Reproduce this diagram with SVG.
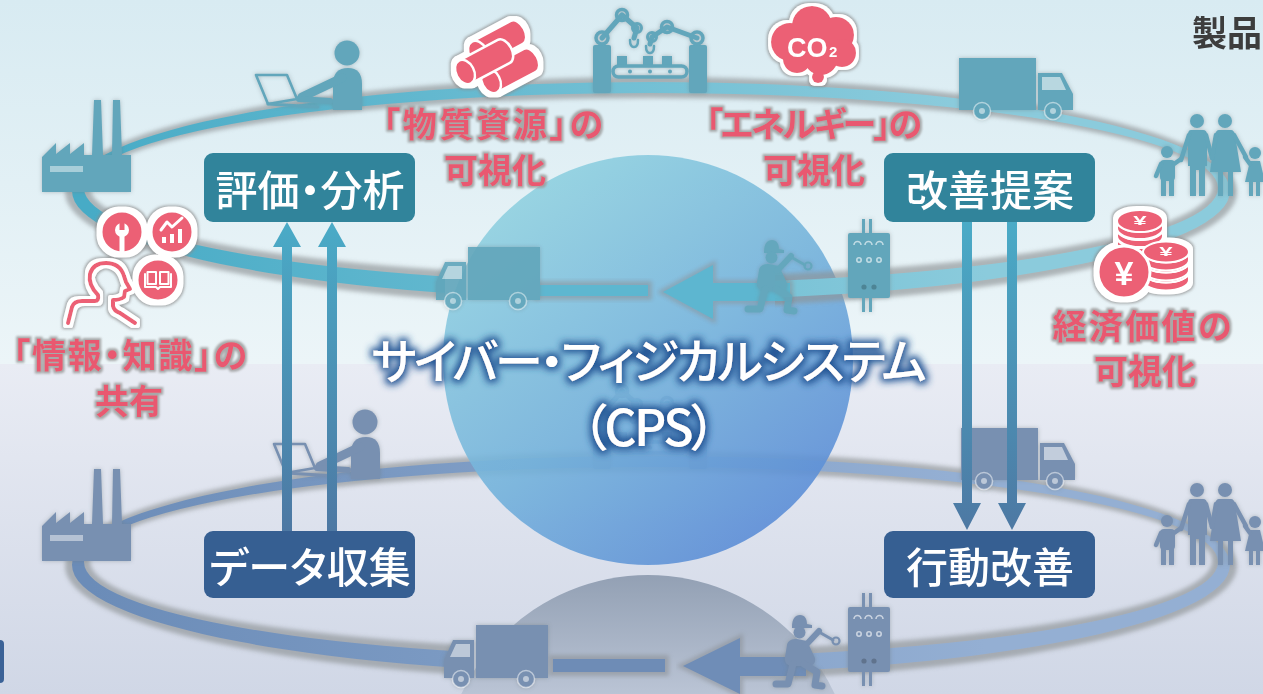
<svg xmlns="http://www.w3.org/2000/svg" width="1263" height="694" viewBox="0 0 1263 694">
<style>
  .ico-top{color:#62a6bb}
  .ico-low{color:#7890b1}
  .box-upper{fill:#31849b}
  .box-lower{fill:#365f92}
  .box-text{fill:#ffffff;font-family:"Noto Sans CJK JP","Noto Sans",sans-serif;font-size:42px;font-weight:500;text-anchor:middle;dominant-baseline:central;font-feature-settings:"palt"}
  .pink-text{fill:#e95870;font-family:"Noto Sans CJK JP","Noto Sans",sans-serif;font-size:34px;font-weight:700;text-anchor:middle;dominant-baseline:central;font-feature-settings:"palt"}
  .cps-text{fill:#ffffff;font-family:"Noto Sans CJK JP","Noto Sans",sans-serif;font-weight:500;text-anchor:middle;dominant-baseline:central;font-feature-settings:"palt"}
  .pk{fill:#ec6075}
  .wline{fill:none;stroke:#ffffff;stroke-linecap:round;stroke-linejoin:round}
</style>
<defs>
  <linearGradient id="bgTop" x1="0" y1="0" x2="0" y2="1">
    <stop offset="0" stop-color="#d8ebf2"/><stop offset="1" stop-color="#ecf5f8"/>
  </linearGradient>
  <linearGradient id="bgBottom" x1="0" y1="0" x2="0" y2="1">
    <stop offset="0" stop-color="#e9ecf4"/><stop offset="1" stop-color="#d0d7e6"/>
  </linearGradient>
  <linearGradient id="sphereFill" x1="0.2" y1="0.1" x2="0.85" y2="0.95">
    <stop offset="0" stop-color="#8fd0e0"/><stop offset="0.5" stop-color="#74b2db"/><stop offset="1" stop-color="#5989d6"/>
  </linearGradient>
  <linearGradient id="ghostFill" x1="0" y1="575" x2="0" y2="694" gradientUnits="userSpaceOnUse">
    <stop offset="0" stop-color="#8f9db1"/><stop offset="1" stop-color="#b9c3d4"/>
  </linearGradient>
  <linearGradient id="ringTop" x1="100" y1="260" x2="950" y2="90" gradientUnits="userSpaceOnUse">
    <stop offset="0" stop-color="#47abc6"/><stop offset="1" stop-color="#8bcbdc"/>
  </linearGradient>
  <linearGradient id="ringBottom" x1="100" y1="260" x2="950" y2="90" gradientUnits="userSpaceOnUse">
    <stop offset="0" stop-color="#6b8cb8"/><stop offset="1" stop-color="#94afd3"/>
  </linearGradient>
  <linearGradient id="flow" x1="0" y1="222" x2="0" y2="531" gradientUnits="userSpaceOnUse">
    <stop offset="0" stop-color="#4aabc7"/><stop offset="1" stop-color="#4d78a3"/>
  </linearGradient>

  <filter id="blurRing" x="-5%" y="-15%" width="110%" height="130%">
    <feGaussianBlur stdDeviation="2.2"/>
  </filter>
  <filter id="soft" x="-20%" y="-20%" width="140%" height="140%">
    <feDropShadow dx="0" dy="0" stdDeviation="2" flood-color="#6d7b80" flood-opacity="0.45"/>
  </filter>
  <filter id="sticker" x="-20%" y="-20%" width="140%" height="140%">
    <feMorphology in="SourceAlpha" operator="dilate" radius="4" result="d2"/>
    <feGaussianBlur in="d2" stdDeviation="1.4" result="d2b"/>
    <feFlood flood-color="#8a8a8a" flood-opacity="0.8"/>
    <feComposite in2="d2b" operator="in" result="gray"/>
    <feMorphology in="SourceAlpha" operator="dilate" radius="2.5" result="d1"/>
    <feFlood flood-color="#ffffff"/>
    <feComposite in2="d1" operator="in" result="white"/>
    <feMerge><feMergeNode in="gray"/><feMergeNode in="white"/><feMergeNode in="SourceGraphic"/></feMerge>
  </filter>
  <filter id="halo" x="-10%" y="-20%" width="120%" height="140%">
    <feMorphology in="SourceAlpha" operator="dilate" radius="1.6" result="d"/>
    <feGaussianBlur in="d" stdDeviation="1" result="b"/>
    <feFlood flood-color="#9b9b9b" flood-opacity="0.85"/>
    <feComposite in2="b" operator="in" result="g"/>
    <feMerge><feMergeNode in="g"/><feMergeNode in="SourceGraphic"/></feMerge>
  </filter>
  <filter id="glow" x="-10%" y="-30%" width="120%" height="160%">
    <feMorphology in="SourceAlpha" operator="dilate" radius="3" result="d"/>
    <feGaussianBlur in="d" stdDeviation="3.5" result="b"/>
    <feFlood flood-color="#255796" flood-opacity="1"/>
    <feComposite in2="b" operator="in" result="g"/>
    <feMerge><feMergeNode in="g"/><feMergeNode in="SourceGraphic"/></feMerge>
  </filter>

  <mask id="gapTop" maskUnits="userSpaceOnUse" x="0" y="0" width="1263" height="694">
    <rect width="1263" height="694" fill="#fff"/>
    <rect x="445" y="235" width="330" height="100" fill="#000"/>
  </mask>
  <mask id="gapBottom" maskUnits="userSpaceOnUse" x="0" y="-400" width="1263" height="1100">
    <rect y="-400" width="1263" height="1100" fill="#fff"/>
    <rect x="455" y="231" width="340" height="100" fill="#000"/>
  </mask>

  <!-- ring band shapes -->
  <path id="ring-shadow" fill-rule="evenodd" d="M65,192 a586,115 0 1 0 1172,0 a586,115 0 1 0 -1172,0 Z M90,187 a561,89 0 1 0 1122,0 a561,89 0 1 0 -1122,0 Z"/>
  <path id="ring-band" fill-rule="evenodd" d="M72,191 a579,109 0 1 0 1158,0 a579,109 0 1 0 -1158,0 Z M84,188 a567,95 0 1 0 1134,0 a567,95 0 1 0 -1134,0 Z"/>

  <!-- icons, drawn in currentColor -->
  <g id="factory" fill="currentColor">
    <path d="M42,192 L42,157 L56,143 L56,154 L70,143 L70,154 L84,143 L84,155 L92,155 L94,100 L101,100 L103,155 L112,155 L113,100 L120,100 L122,155 L131,155 L131,192 Z"/>
    <rect x="50" y="166" width="33" height="6" fill="#ffffff" fill-opacity="0.45"/>
  </g>
  <g id="pc-user" fill="currentColor">
    <circle cx="347" cy="53" r="12.5"/>
    <path d="M333,84 Q333,68 348,68 Q362,68 362,84 L362,110 L333,110 Z"/>
    <g fill="none" stroke="currentColor" stroke-linecap="round" stroke-linejoin="round">
      <path d="M342,78 L302,97" stroke-width="9"/>
      <path d="M299,99 L330,101" stroke-width="6"/>
      <path d="M256,75 L287,75 L297,99 L268,104 Z" stroke-width="2.6"/>
      <path d="M268,104 L318,107" stroke-width="3"/>
    </g>
  </g>
  <g id="robot-line" fill="currentColor">
    <rect x="593" y="45" width="18" height="48" rx="2"/>
    <rect x="689" y="45" width="18" height="48" rx="2"/>
    <rect x="617" y="56" width="10" height="10"/>
    <rect x="643" y="56" width="10" height="10"/>
    <rect x="662" y="56" width="10" height="10"/>
    <circle cx="630" cy="71.5" r="2"/><circle cx="650" cy="71.5" r="2"/><circle cx="670" cy="71.5" r="2"/>
    <g fill="none" stroke="currentColor" stroke-linecap="round" stroke-linejoin="round">
      <rect x="613" y="66" width="74" height="11" rx="5.5" stroke-width="3.5"/>
      <path d="M602,38 L622,15 L637,28 L634,38" stroke-width="5"/>
      <path d="M697,38 L667,27 L652,37 L650,44" stroke-width="5"/>
      <circle cx="602" cy="38" r="6" stroke-width="3.5"/>
      <circle cx="622" cy="15" r="5.5" stroke-width="3.5"/>
      <circle cx="637" cy="28" r="4.5" stroke-width="3"/>
      <circle cx="697" cy="38" r="6" stroke-width="3.5"/>
      <circle cx="667" cy="27" r="5.5" stroke-width="3.5"/>
      <circle cx="652" cy="37" r="4.5" stroke-width="3"/>
      <path d="M630,40 Q630,47 634,47 Q638,47 638,40" stroke-width="2.5"/>
      <path d="M646,46 Q646,53 650,53 Q654,53 654,46" stroke-width="2.5"/>
    </g>
  </g>
  <g id="truck-right" fill="currentColor">
    <rect x="959" y="58" width="77" height="52"/>
    <path d="M1038,73 L1062,73 L1073,94 L1073,110 L1038,110 Z"/>
    <path d="M1042,77 L1060,77 L1066,90 L1042,90 Z" fill="#ffffff" fill-opacity="0.55"/>
    <circle cx="982" cy="111" r="8.5" stroke="#ffffff" stroke-opacity="0.5" stroke-width="1.5"/>
    <circle cx="982" cy="111" r="3" fill="#ffffff" fill-opacity="0.5"/>
    <circle cx="1053" cy="111" r="8.5" stroke="#ffffff" stroke-opacity="0.5" stroke-width="1.5"/>
    <circle cx="1053" cy="111" r="3" fill="#ffffff" fill-opacity="0.5"/>
  </g>
  <g id="truck-left" fill="currentColor">
    <rect x="468" y="247" width="72" height="53"/>
    <path d="M466,262 L445,262 L436,282 L436,300 L466,300 Z"/>
    <path d="M462,266 L448,266 L442,279 L462,279 Z" fill="#ffffff" fill-opacity="0.5"/>
    <circle cx="453" cy="301" r="8.5" stroke="#ffffff" stroke-opacity="0.5" stroke-width="1.5"/>
    <circle cx="453" cy="301" r="3" fill="#ffffff" fill-opacity="0.5"/>
    <circle cx="518" cy="301" r="8.5" stroke="#ffffff" stroke-opacity="0.5" stroke-width="1.5"/>
    <circle cx="518" cy="301" r="3" fill="#ffffff" fill-opacity="0.5"/>
  </g>
  <g id="family" fill="currentColor">
    <circle cx="1197" cy="121" r="7"/>
    <path d="M1191,130 L1203,130 Q1207,130 1207,135 L1207,166 L1205,166 L1205,196 L1199,196 L1199,170 L1196,170 L1196,196 L1190,196 L1190,166 L1188,166 L1188,135 Q1188,130 1191,130 Z"/>
    <circle cx="1225" cy="121" r="7"/>
    <path d="M1219,130 L1231,130 Q1234,130 1235,135 L1241,172 L1233,172 L1233,196 L1228,196 L1228,172 L1223,172 L1223,196 L1218,196 L1218,172 L1210,172 L1215,135 Q1216,130 1219,130 Z"/>
    <circle cx="1167" cy="152" r="6"/>
    <rect x="1160" y="160" width="15" height="21" rx="4"/>
    <rect x="1161" y="178" width="5" height="18"/><rect x="1169" y="178" width="5" height="18"/>
    <circle cx="1255" cy="153" r="6"/>
    <path d="M1250,161 L1260,161 L1265,182 L1245,182 Z"/>
    <rect x="1249" y="180" width="4" height="16"/><rect x="1256" y="180" width="4" height="16"/>
    <g fill="none" stroke="currentColor" stroke-width="4.5" stroke-linecap="round">
      <path d="M1189,135 L1181,160"/>
      <path d="M1206,135 L1212,158"/>
      <path d="M1216,135 L1212,158"/>
      <path d="M1234,135 L1246,157"/>
      <path d="M1174,164 L1181,159"/>
      <path d="M1161,164 L1156,176"/>
      <path d="M1250,164 L1245,157"/>
    </g>
  </g>
  <g id="control-panel" fill="currentColor">
    <rect x="848" y="233" width="42" height="65" rx="2"/>
    <rect x="862" y="219" width="3" height="14"/><rect x="869" y="219" width="3" height="14"/>
    <rect x="862" y="298" width="3" height="14"/><rect x="869" y="298" width="3" height="14"/>
    <g fill="none" stroke="#ffffff" stroke-opacity="0.6" stroke-width="1.6">
      <path d="M854,245 a3.5,3.5 0 1 1 7,0 M865,245 a3.5,3.5 0 1 1 7,0 M876,245 a3.5,3.5 0 1 1 7,0"/>
      <circle cx="859" cy="260" r="2.2"/><circle cx="869" cy="260" r="2.2"/><circle cx="879" cy="260" r="2.2"/>
    </g>
    <circle cx="864" cy="287" r="2.6" fill="#000000" fill-opacity="0.2"/>
    <circle cx="874" cy="287" r="2.6" fill="#000000" fill-opacity="0.2"/>
  </g>
  <g id="mechanic" fill="currentColor">
    <path d="M764,252 C764,244 767,240 772,240 C777,240 779,244 779,249 L784,250 L784,253 L764,253 Z"/>
    <circle cx="771.5" cy="257.5" r="6"/>
    <path d="M759,270 C760,265 764,264 769,264 L779,266 L787,283 C788,288 785,291 780,291 L765,291 C759,291 756,287 757,282 Z"/>
    <g fill="none" stroke="currentColor" stroke-linecap="round" stroke-linejoin="round">
      <path d="M777,271 L791,256" stroke-width="6"/>
      <path d="M791,257 L805,265" stroke-width="3"/>
      <circle cx="808" cy="266" r="3.5" stroke-width="2.2"/>
      <path d="M776,289 L789,297 L787,310 L794,311" stroke-width="7"/>
      <path d="M765,289 L760,309 L748,309" stroke-width="7"/>
    </g>
  </g>
  <g id="log">
    <path d="M0,-13 L44,-13 A8,13 0 0 1 44,13 L0,13 Z" class="pk" stroke="#ffffff" stroke-width="2.5"/>
    <ellipse cx="0" cy="0" rx="9" ry="13" class="pk" stroke="#ffffff" stroke-width="2.5"/>
  </g>
</defs>

<!-- backdrop -->
<rect x="0" y="0" width="1263" height="364" fill="url(#bgTop)"/>
<rect x="0" y="364" width="1263" height="330" fill="url(#bgBottom)"/>

<!-- reflected dome below the lower loop -->
<circle cx="648" cy="781" r="206" fill="url(#ghostFill)" opacity="0.95"/>

<!-- lower (physical) loop -->
<g id="loop-physical">
  <g transform="translate(0,374)" mask="url(#gapBottom)">
    <use href="#ring-shadow" fill="#8d9295" fill-opacity="0.65" filter="url(#blurRing)"/>
    <use href="#ring-band" fill="url(#ringBottom)"/>
  </g>
  <g filter="url(#soft)">
    <use href="#factory" class="ico-low" y="369"/>
    <use href="#pc-user" class="ico-low" x="18" y="369"/>
    <use href="#robot-line" class="ico-low" y="376"/>
    <use href="#truck-right" class="ico-low" x="2" y="370"/>
    <use href="#family" class="ico-low" y="369"/>
  </g>
  <rect x="549" y="655" width="120" height="21" fill="#8a9096" opacity="0.6" filter="url(#blurRing)"/>
  <rect x="553" y="659" width="112" height="13" fill="#6e8cb6"/>
  <polygon points="683,666 740,638 740,657 806,657 806,676 740,676 740,694" fill="none" stroke="#8a9096" stroke-width="6" opacity="0.6" filter="url(#blurRing)"/>
  <polygon points="683,666 740,638 740,657 806,657 806,676 740,676 740,694" fill="#6f8db7"/>
  <g filter="url(#soft)">
    <use href="#truck-left" class="ico-low" x="8" y="378"/>
    <use href="#mechanic" class="ico-low" x="28" y="375"/>
    <use href="#control-panel" class="ico-low" y="374"/>
  </g>
</g>

<!-- central sphere -->
<g id="node-cps">
  <circle cx="648" cy="360" r="205" fill="url(#sphereFill)" opacity="0.9"/>
</g>

<!-- upper (cyber) loop -->
<g id="loop-cyber">
  <g mask="url(#gapTop)">
    <use href="#ring-shadow" fill="#8d9295" fill-opacity="0.65" filter="url(#blurRing)"/>
    <use href="#ring-band" fill="url(#ringTop)"/>
  </g>
  <g filter="url(#soft)">
    <use href="#factory" class="ico-top"/>
    <use href="#pc-user" class="ico-top"/>
    <use href="#robot-line" class="ico-top"/>
    <use href="#truck-right" class="ico-top"/>
    <use href="#family" class="ico-top"/>
  </g>
  <g opacity="0.92">
    <rect x="534" y="281" width="118" height="19" fill="#8a9096" opacity="0.6" filter="url(#blurRing)"/>
    <rect x="538" y="285" width="110" height="11" fill="#5ab6cf"/>
    <polygon points="663,292 713,265 713,283 790,283 790,301 713,301 713,319" fill="none" stroke="#8a9096" stroke-width="6" opacity="0.6" filter="url(#blurRing)"/>
    <polygon points="663,292 713,265 713,283 790,283 790,301 713,301 713,319" fill="#5ab6cf"/>
    <g filter="url(#soft)">
      <use href="#truck-left" class="ico-top"/>
      <use href="#mechanic" class="ico-top"/>
    </g>
  </g>
  <use href="#control-panel" class="ico-top" filter="url(#soft)"/>
</g>

<!-- pink value icons -->
<g id="icon-materials" filter="url(#sticker)">
  <use href="#log" transform="translate(478,53) rotate(-28)"/>
  <use href="#log" transform="translate(491,81) rotate(-28)"/>
  <use href="#log" transform="translate(465,72) rotate(-28)"/>
</g>
<g id="icon-co2" filter="url(#sticker)">
  <g class="pk">
    <circle cx="790" cy="42" r="19"/><circle cx="812" cy="26" r="20"/><circle cx="836" cy="35" r="18"/>
    <circle cx="842" cy="53" r="14"/><circle cx="821" cy="58" r="17"/><circle cx="797" cy="59" r="14"/>
    <circle cx="818" cy="77" r="6"/>
  </g>
  <text x="787" y="57" fill="#ffffff" font-family="'Liberation Sans',Arial,sans-serif" font-weight="700" font-size="27">CO</text>
  <text x="829" y="57" fill="#ffffff" font-family="'Liberation Sans',Arial,sans-serif" font-weight="700" font-size="15">2</text>
</g>
<g id="icon-yen" filter="url(#sticker)">
  <g stroke="#ffffff" stroke-width="2" class="pk">
    <path d="M1117,237 A23,11 0 0 0 1163,237 L1163,244 A23,11 0 0 1 1117,244 Z"/>
    <ellipse cx="1140" cy="237" rx="23" ry="11"/>
    <path d="M1117,229 A23,11 0 0 0 1163,229 L1163,236 A23,11 0 0 1 1117,236 Z"/>
    <ellipse cx="1140" cy="229" rx="23" ry="11"/>
    <path d="M1117,221 A23,11 0 0 0 1163,221 L1163,228 A23,11 0 0 1 1117,228 Z"/>
    <ellipse cx="1140" cy="221" rx="23" ry="11"/>
    <path d="M1143,272 A23,10.5 0 0 0 1189,272 L1189,280 A23,10.5 0 0 1 1143,280 Z"/>
    <ellipse cx="1166" cy="272" rx="23" ry="10.5"/>
    <path d="M1143,262 A23,10.5 0 0 0 1189,262 L1189,270 A23,10.5 0 0 1 1143,270 Z"/>
    <ellipse cx="1166" cy="262" rx="23" ry="10.5"/>
    <path d="M1143,252 A23,10.5 0 0 0 1189,252 L1189,260 A23,10.5 0 0 1 1143,260 Z"/>
    <ellipse cx="1166" cy="252" rx="23" ry="10.5"/>
  </g>
  <text transform="translate(1140,221) scale(1.2,0.6)" fill="#ffffff" font-family="'Liberation Sans',Arial,sans-serif" font-weight="700" font-size="20" text-anchor="middle" dominant-baseline="central">¥</text>
  <text transform="translate(1166,252) scale(1.2,0.6)" fill="#ffffff" font-family="'Liberation Sans',Arial,sans-serif" font-weight="700" font-size="20" text-anchor="middle" dominant-baseline="central">¥</text>
  <circle cx="1124" cy="272" r="26" class="pk" stroke="#ffffff" stroke-width="3"/>
  <text x="1124" y="273" fill="#ffffff" font-family="'Liberation Sans',Arial,sans-serif" font-weight="700" font-size="34" text-anchor="middle" dominant-baseline="central">¥</text>
</g>
<g id="icon-knowledge" filter="url(#sticker)">
  <path d="M68,323 L72,307 Q74,301 82,301 L95,301 Q99,301 98,295 Q88,285 90,274 Q93,263 106,263 Q120,263 124,276 L126,282 L130,289 L125,291 L124,297 Q120,300 113,300 L113,306 Q114,311 120,313 L135,323" fill="none" stroke="#ec6075" stroke-width="4" stroke-linecap="round" stroke-linejoin="round"/>
  <circle cx="122" cy="232" r="21" class="pk" stroke="#ffffff" stroke-width="3"/>
  <circle cx="122" cy="230" r="7" fill="#ffffff"/>
  <rect x="119.5" y="221" width="5" height="9" class="pk"/>
  <rect x="119.5" y="234" width="5" height="18" fill="#ffffff"/>
  <circle cx="172" cy="232" r="21" class="pk" stroke="#ffffff" stroke-width="3"/>
  <path d="M161,230 L167,222 L172,227 L182,218" class="wline" stroke-width="3"/>
  <rect x="162" y="237" width="4" height="6" fill="#ffffff"/>
  <rect x="170" y="234" width="4" height="9" fill="#ffffff"/>
  <rect x="178" y="229" width="4" height="14" fill="#ffffff"/>
  <circle cx="158" cy="280" r="21" class="pk" stroke="#ffffff" stroke-width="3"/>
  <path d="M145,274 L145,287 L156,287 L158,289 L160,287 L171,287 L171,274" class="wline" stroke-width="2"/>
  <rect x="147.5" y="272" width="8.5" height="12" class="wline" stroke-width="2"/>
  <rect x="160" y="272" width="8.5" height="12" class="wline" stroke-width="2"/>
</g>

<!-- value labels, two lines each -->
<g id="labels-value" filter="url(#halo)">
  <text class="pink-text"><tspan x="493" y="122" textLength="220" lengthAdjust="spacing">「物質資源」の</tspan><tspan x="495" y="168">可視化</tspan></text>
  <text class="pink-text"><tspan x="814" y="122" textLength="216" lengthAdjust="spacing">「エネルギー」の</tspan><tspan x="814" y="168">可視化</tspan></text>
  <text class="pink-text"><tspan x="130" y="353" textLength="234" lengthAdjust="spacing">「情報・知識」の</tspan><tspan x="129" y="399">共有</tspan></text>
  <text class="pink-text"><tspan x="1142" y="324" textLength="179" lengthAdjust="spacing">経済価値の</tspan><tspan x="1145" y="369">可視化</tspan></text>
</g>

<!-- flows between the stages -->
<g id="connectors" fill="url(#flow)">
  <path d="M282,531 L282,247 L273,247 L287,222 L301,247 L292,247 L292,531 Z"/>
  <path d="M327,531 L327,247 L318,247 L332,222 L346,247 L337,247 L337,531 Z"/>
  <path d="M962,222 L962,503 L953,503 L967,530 L981,503 L972,503 L972,222 Z"/>
  <path d="M1007,222 L1007,503 L998,503 L1012,530 L1026,503 L1017,503 L1017,222 Z"/>
</g>

<!-- stage boxes -->
<g id="node-eval">
  <rect x="204" y="153" width="211" height="69" rx="9" class="box-upper"/>
  <text class="box-text" x="310" y="187.5">評価・分析</text>
</g>
<g id="node-propose">
  <rect x="884" y="153" width="211" height="69" rx="9" class="box-upper"/>
  <text class="box-text" x="990" y="187.5">改善提案</text>
</g>
<g id="node-collect">
  <rect x="204" y="531" width="211" height="67" rx="9" class="box-lower"/>
  <text class="box-text" x="310" y="564.5">データ収集</text>
</g>
<g id="node-action">
  <rect x="884" y="531" width="211" height="67" rx="9" class="box-lower"/>
  <text class="box-text" x="990" y="564.5">行動改善</text>
</g>

<!-- title on the sphere -->
<g id="cps-title" filter="url(#glow)">
  <text class="cps-text"><tspan x="649" y="358" font-size="48" textLength="555" lengthAdjust="spacing">サイバー・フィジカルシステム</tspan><tspan x="649" y="424" font-size="50" textLength="134" lengthAdjust="spacing">（CPS）</tspan></text>
</g>

<text x="1192" y="30" fill="#3d3d3d" font-family="'Noto Sans CJK JP','Noto Sans',sans-serif" font-weight="700" font-size="35" dominant-baseline="central">製品</text>
<rect x="-6" y="640" width="10" height="43" rx="4" fill="#3b6297"/>
</svg>
